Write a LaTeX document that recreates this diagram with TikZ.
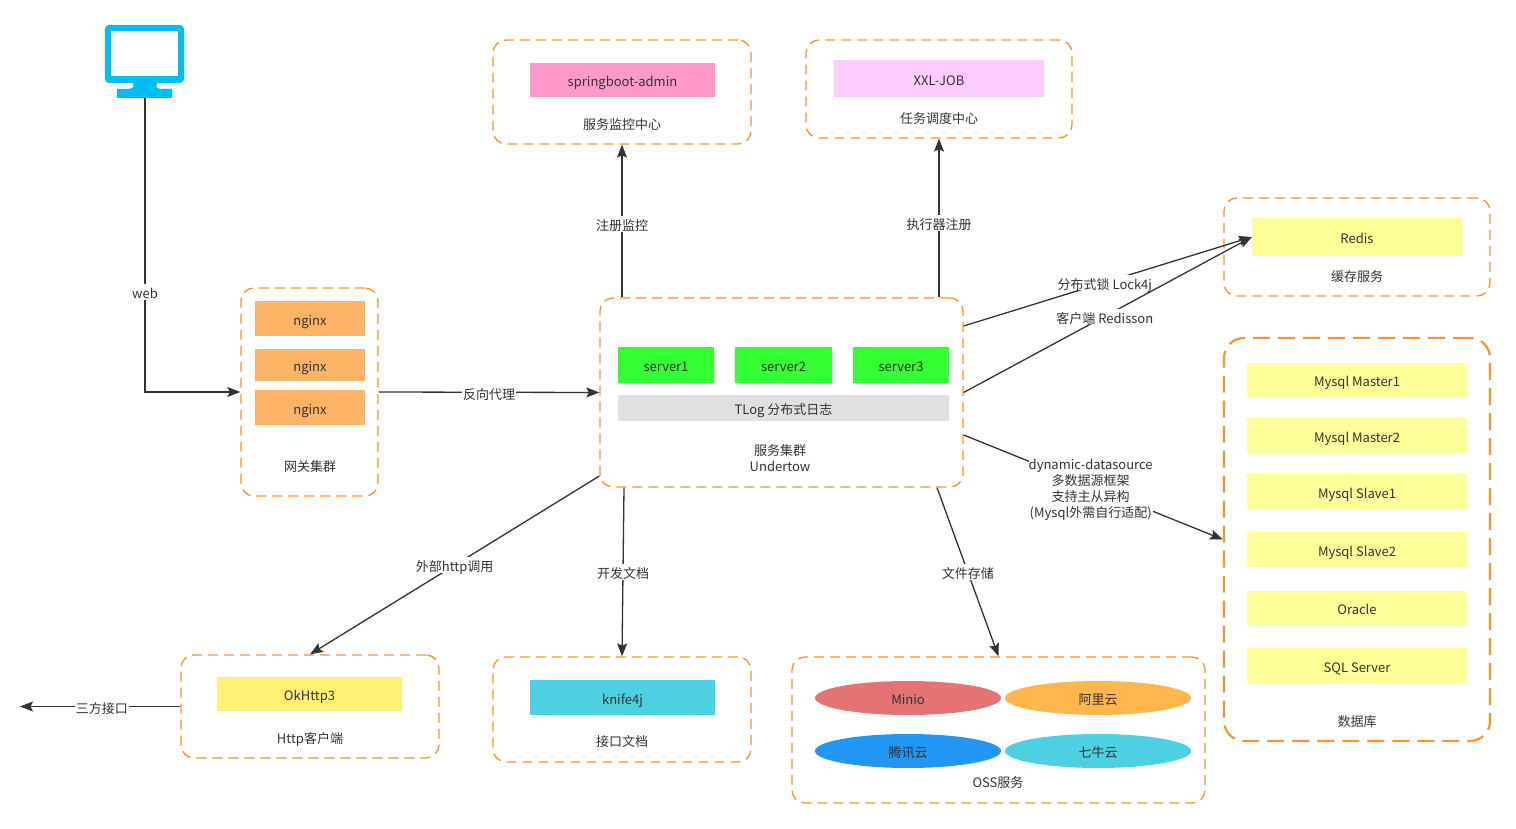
\documentclass[tikz,border=0pt]{standalone}
\usepackage{fontspec}
\setmainfont{Noto Sans CJK SC}
\usetikzlibrary{arrows.meta,shapes.geometric,calc}
\definecolor{txt}{HTML}{333333}
\definecolor{dorange}{HTML}{F8952E}
\definecolor{cnginx}{HTML}{FFB366}
\definecolor{cgreen}{HTML}{33FF33}
\definecolor{cpink}{HTML}{FF99CC}
\definecolor{clilac}{HTML}{FFCCFF}
\definecolor{cyellow}{HTML}{FFFF99}
\definecolor{cok}{HTML}{FFF176}
\definecolor{ccyan}{HTML}{4DD0E1}
\definecolor{cred}{HTML}{E57373}
\definecolor{camber}{HTML}{FFB74D}
\definecolor{cblue}{HTML}{2196F3}
\definecolor{cgrey}{HTML}{E0E0E0}
\definecolor{cmon}{HTML}{00BEF2}
\begin{document}
\begin{tikzpicture}[x=1pt,y=-1pt,
  every node/.style={font=\fontsize{13}{16}\selectfont, text=txt},
  one/.style={text height=13.5pt, text depth=0pt},
  dbox/.style={draw=dorange, line width=1.3pt, dash pattern=on 10pt off 6pt, rounded corners=13pt, rectangle, inner sep=0pt},
  dboxthick/.style={dbox, line width=2.2pt, dash pattern=on 17pt off 8pt, rounded corners=20pt},
  ibox/.style={rectangle, inner sep=0pt, draw=none, one},
  ell/.style={ellipse, inner sep=0pt, minimum width=186pt, minimum height=34pt, draw=none, one},
  conn/.style={draw=txt, line width=1.3pt, -{Stealth[length=13pt,width=10pt,inset=2.5pt]}},
  lbl/.style={fill=white, inner sep=1pt},
  captxt/.style={inner sep=0pt}
]
\useasboundingbox (0,0) rectangle (1516,829);

% monitor icon
\fill[cmon, rounded corners=4pt] (105,25) rectangle (184,83);
\fill[white] (111,31) rectangle (178,76);
\fill[cmon] (133,82) .. controls (134,88) .. (128,89) -- (117,89) -- (117,98) -- (172,98) -- (172,89) -- (161,89) .. controls (156,88) .. (157,82) -- cycle;
\coordinate (mon) at (145,98);

% gateway
\node[dbox, minimum width=137pt, minimum height=208pt] (gw) at (309.5,392) {};
\node[ibox, fill=cnginx, minimum width=110pt, minimum height=35pt] (ng1) at (310,318.5) {nginx};
\node[ibox, fill=cnginx, minimum width=110pt, minimum height=32pt] (ng2) at (310,365) {nginx};
\node[ibox, fill=cnginx, minimum width=110pt, minimum height=35pt] (ng3) at (310,407.5) {nginx};
\node[captxt, one] (gwl) at (310,465) {网关集群};

% server cluster
\node[dbox, minimum width=363pt, minimum height=189pt] (srv) at (781.5,392.5) {};
\node[ibox, fill=cgreen, minimum width=96pt, minimum height=36pt] (s1) at (666,365) {server1};
\node[ibox, fill=cgreen, minimum width=97pt, minimum height=36pt] (s2) at (783.5,365) {server2};
\node[ibox, fill=cgreen, minimum width=96pt, minimum height=36pt] (s3) at (901,365) {server3};
\node[ibox, fill=cgrey, minimum width=331pt, minimum height=26pt] (tlog) at (783.5,408) {TLog 分布式日志};
\node[captxt, align=center] (srvl) at (780,458) {服务集群\\Undertow};

% springboot-admin
\node[dbox, minimum width=258pt, minimum height=104pt] (adm) at (622,92) {};
\node[ibox, fill=cpink, minimum width=185pt, minimum height=34pt] (admin) at (622.5,80) {springboot-admin};
\node[captxt, one] (adml) at (622,123) {服务监控中心};

% XXL-JOB
\node[dbox, minimum width=266pt, minimum height=98pt] (xxl) at (939,89) {};
\node[ibox, fill=clilac, minimum width=210pt, minimum height=37pt] (xxlin) at (939,78.5) {XXL-JOB};
\node[captxt, one] (xxll) at (939,117) {任务调度中心};

% Redis
\node[dbox, minimum width=266pt, minimum height=98pt] (red) at (1357,247) {};
\node[ibox, fill=cyellow, minimum width=210pt, minimum height=38pt] (redin) at (1357,237) {Redis};
\node[captxt, one] (redl) at (1357,275) {缓存服务};

% Database
\node[dboxthick, minimum width=266pt, minimum height=403pt] (db) at (1357,539.5) {};
\node[ibox, fill=cyellow, minimum width=220pt, minimum height=34pt] (m1) at (1357,380) {Mysql Master1};
\node[ibox, fill=cyellow, minimum width=220pt, minimum height=35pt] (m2) at (1357,435.5) {Mysql Master2};
\node[ibox, fill=cyellow, minimum width=220pt, minimum height=35pt] (sl1) at (1357,491.5) {Mysql Slave1};
\node[ibox, fill=cyellow, minimum width=220pt, minimum height=35pt] (sl2) at (1357,549.5) {Mysql Slave2};
\node[ibox, fill=cyellow, minimum width=220pt, minimum height=34pt] (ora) at (1357,608) {Oracle};
\node[ibox, fill=cyellow, minimum width=220pt, minimum height=35pt] (sqls) at (1357,665.5) {SQL Server};
\node[captxt, one] (dbl) at (1357,720) {数据库};

% Http client
\node[dbox, minimum width=258pt, minimum height=103pt] (http) at (310,706.5) {};
\node[ibox, fill=cok, minimum width=185pt, minimum height=34pt] (ok) at (309.5,694) {OkHttp3};
\node[captxt, one] (httpl) at (310,737) {Http客户端};

% knife4j
\node[dbox, minimum width=258pt, minimum height=105pt] (kn) at (622,709.5) {};
\node[ibox, fill=ccyan, minimum width=185pt, minimum height=35pt] (knin) at (622.5,697.5) {knife4j};
\node[captxt, one] (knl) at (622,740) {接口文档};

% OSS
\node[dbox, minimum width=413pt, minimum height=146pt] (oss) at (998.5,730) {};
\node[ell, fill=cred] (minio) at (908,698) {Minio};
\node[ell, fill=camber] (ali) at (1098,698) {阿里云};
\node[ell, fill=cblue] (tx) at (908,751) {腾讯云};
\node[ell, fill=ccyan] (qn) at (1098,751) {七牛云};
\node[captxt, one] (ossl) at (998,781) {OSS服务};

% connectors
\draw[conn] (mon) -- (mon |- gw.west) node[lbl, one, pos=0.66] {web} -- (gw.west);
\draw[conn] (gw.east) -- node[lbl, one] {反向代理} (srv.west);
\draw[conn] (adm.south |- srv.north) -- node[lbl, one, pos=0.48] {注册监控} (adm.south);
\draw[conn] (xxl.south |- srv.north) -- node[lbl, one, pos=0.47] {执行器注册} (xxl.south);
\draw[conn] ([yshift=66.5pt]srv.east) -- node[lbl, one, pos=0.49] {分布式锁 Lock4j} (redin.west);
\draw[conn] (srv.east) -- node[lbl, one, pos=0.49] {客户端 Redisson} (redin.west);
\draw[conn] ([yshift=-42.5pt]srv.east) -- node[lbl, align=center, pos=0.49, inner sep=0pt, yshift=-4pt] {dynamic-datasource\\多数据源框架\\支持主从异构\\(Mysql外需自行适配)} (db.west);
\draw[conn] ([yshift=-83.5pt]srv.west) -- node[lbl, one, pos=0.5] {外部http调用} (http.north);
\draw[conn] ([xshift=-157.5pt]srv.south) -- node[lbl, one, pos=0.5] {开发文档} (kn.north);
\draw[conn] ([xshift=155.5pt]srv.south) -- node[lbl, one, pos=0.5] {文件存储} (oss.north);
\coordinate (ext) at (20,706.5);
\draw[conn] (http.west) -- node[lbl, one, pos=0.49] {三方接口} (ext);
\end{tikzpicture}
\end{document}
